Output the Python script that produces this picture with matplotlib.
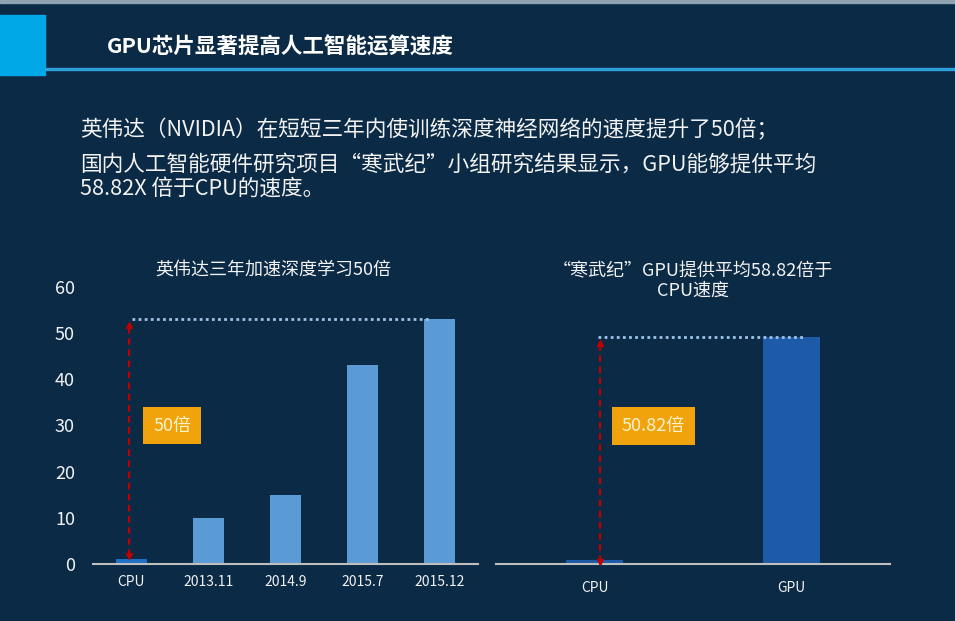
import matplotlib
matplotlib.use('agg')
import matplotlib.pyplot as plt
from matplotlib.patches import Rectangle

plt.rcParams['font.family'] = ['Noto Sans CJK SC', 'DejaVu Sans']

# --- data ---
left_labels = ["CPU", "2013.11", "2014.9", "2015.7", "2015.12"]
left_values = [1, 10, 15, 43, 53]
left_colors = ["#1f6fc5", "#5b9bd5", "#5b9bd5", "#5b9bd5", "#5b9bd5"]
left_yticks = [0, 10, 20, 30, 40, 50, 60]
left_badge = "50倍"

right_labels = ["CPU", "GPU"]
right_values = [1, 58.82]
right_badge = "50.82倍"

title = "GPU芯片显著提高人工智能运算速度"
body_lines = [
    "英伟达（NVIDIA）在短短三年内使训练深度神经网络的速度提升了50倍；",
    "国内人工智能硬件研究项目“寒武纪”小组研究结果显示，GPU能够提供平均",
    "58.82X 倍于CPU的速度。",
]
left_title = "英伟达三年加速深度学习50倍"
right_title = "“寒武纪”GPU提供平均58.82倍于\nCPU速度"

BG = "#0b2a45"
W, H = 955, 621

fig = plt.figure(figsize=(9.55, 6.21), dpi=100)
fig.patch.set_facecolor(BG)

# --- header decoration ---
fig.patches.append(Rectangle((0, 1 - 3 / H), 1, 3 / H, transform=fig.transFigure,
                             color="#8fa3b3", zorder=0))
fig.patches.append(Rectangle((0, 1 - 75 / H), 45 / W, 60 / H, transform=fig.transFigure,
                             color="#00a8e8", zorder=1))
fig.patches.append(Rectangle((45 / W, 1 - 70 / H), 1 - 45 / W, 2 / H, transform=fig.transFigure,
                             color="#2f9fd9", zorder=1))
fig.text(107 / W, 1 - 47 / H, title, color="white", fontsize=15.5, fontweight="bold",
         ha="left", va="center")

for txt, yy in zip(body_lines, [130, 165, 189]):
    fig.text(80 / W, 1 - yy / H, txt, color="#f2f2f2", fontsize=15.6, ha="left", va="center")


def style_axis(ax):
    ax.set_facecolor(BG)
    for s in ["left", "right", "top"]:
        ax.spines[s].set_visible(False)
    ax.spines["bottom"].set_color("#bfbfbf")
    ax.spines["bottom"].set_linewidth(1.5)
    ax.tick_params(axis="both", length=0, colors="#f2f2f2")


def badge(ax, x, y, text):
    ax.text(x, y, text, color="#fff2cc", fontsize=13, ha="center", va="center", zorder=5,
            bbox=dict(boxstyle="square,pad=0.55", fc="#f0a30a", ec="none"))


def red_arrow(ax, x, y0, y1):
    ax.plot([x, x], [y0, y1], color="#c00000", ls=(0, (3, 2)), lw=1.6, zorder=4)
    ax.plot([x], [y1], marker="^", color="#c00000", ms=5, zorder=4)
    ax.plot([x], [y0], marker="v", color="#c00000", ms=5, zorder=4)


# --- left chart ---
axl = fig.add_axes([93 / W, 57 / H, 385 / W, 277 / H])
style_axis(axl)
xl = range(len(left_labels))
axl.bar(xl, left_values, width=0.4, color=left_colors, zorder=2)
axl.set_xlim(-0.5, len(left_labels) - 0.5)
axl.set_ylim(0, 60)
axl.set_yticks(left_yticks)
axl.set_xticks(list(xl))
axl.set_xticklabels(left_labels, fontsize=10)
axl.tick_params(axis="x", pad=8)
axl.tick_params(axis="y", pad=13, labelsize=13)
axl.plot([0, len(left_labels) - 1.13], [left_values[-1], left_values[-1]],
         color="#9dc3e6", ls=(0, (1, 1.2)), lw=2, zorder=3)
red_arrow(axl, -0.03, 1.8, left_values[-1] - 1.2)
badge(axl, 0.53, 30, left_badge)
fig.text(273 / W, 1 - 270 / H, left_title, color="#f2f2f2", fontsize=13,
         ha="center", va="center")

# --- right chart ---
axr = fig.add_axes([496 / W, 57 / H, 394 / W, 277 / H])
style_axis(axr)
xr = range(len(right_labels))
axr.bar(xr, right_values, width=0.29, color="#1d5ba8", zorder=2)
axr.set_xlim(-0.5, len(right_labels) - 0.5)
axr.set_ylim(0, 71.8)
axr.set_yticks([])
axr.set_xticks(list(xr))
axr.set_xticklabels(right_labels, fontsize=10)
axr.tick_params(axis="x", pad=12)
axr.plot([0.02, 1.06], [right_values[-1], right_values[-1]],
         color="#9dc3e6", ls=(0, (1, 1.2)), lw=2, zorder=3)
red_arrow(axr, 0.03, 0.5, right_values[-1] - 1.5)
badge(axr, 0.3, 35.7, right_badge)
fig.text(693 / W, 1 - 281 / H, right_title, color="#f2f2f2", fontsize=13,
         ha="center", va="center", linespacing=1.15)

fig.savefig("out.png", dpi=100, facecolor=BG)
